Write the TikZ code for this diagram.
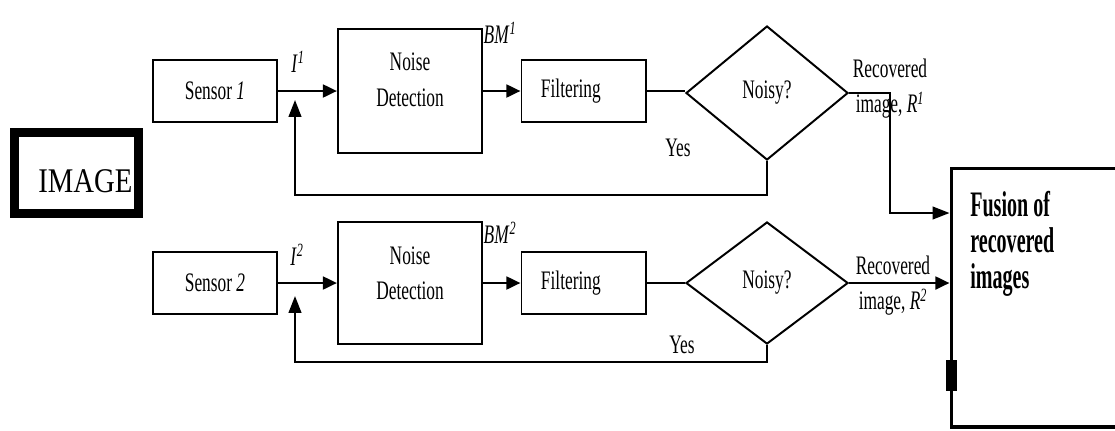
\documentclass[tikz,border=0pt]{standalone}
\usepackage{fontspec}
\usepackage{tikz}
\usetikzlibrary{arrows.meta, shapes.geometric, positioning}
\newfontfamily\boxfont{Liberation Serif}[FakeStretch=0.65]
\newfontfamily\fusefont{Liberation Serif}[FakeStretch=0.56]
\newfontfamily\bigfont{Liberation Serif}[FakeStretch=0.83]

\begin{document}
\begin{tikzpicture}[
        x=0.025cm, y=-0.025cm,
        font=\boxfont\fontsize{19}{25}\selectfont,
        block/.style={draw, line width=1.4pt, inner sep=0pt, align=center, minimum width=3.1cm, minimum height=1.53cm},
        detector/.style={draw, line width=1.4pt, inner sep=0pt, minimum width=3.6cm},
        decision/.style={draw, diamond, line width=1.4pt, inner sep=0pt, minimum width=4.05cm},
        flow/.style={-{Triangle[length=10pt, width=9pt]}, line width=2pt},
        loop/.style={-{Triangle[length=12pt, width=9pt]}, line width=1.4pt},
        note/.style={inner sep=0pt, align=center}
    ]

    \useasboundingbox (0,0) rectangle (1115,430);
    \clip (0,0) rectangle (1115,430);

    % input image
    \draw[line width=6.4pt] (14.5,132.5) rectangle (138,213);
    \node[anchor=base west, inner sep=0pt, font=\bigfont\fontsize{24.6}{26}\selectfont] (image) at (38,192) {IMAGE};

    % first sensor chain
    \node[block] (sensor1) at (215,91) {Sensor \textit{1}};
    \node[detector, minimum height=3.1cm] (detect1) at (410,91) {};
    \node[note] at ([yshift=8pt]detect1.center) {Noise\\Detection};
    \node[block] (filter1) at (583.5,91) {Filtering\hspace{18pt}};
    \node[decision, minimum height=3.35cm] (noisy1) at (767,93) {Noisy?};

    % second sensor chain
    \node[block] (sensor2) at (215,283) {Sensor \textit{2}};
    \node[detector, minimum height=3.05cm] (detect2) at (410,283) {};
    \node[note] at ([yshift=7pt]detect2.center) {Noise\\Detection};
    \node[block] (filter2) at (583.5,283) {Filtering\hspace{18pt}};
    \node[decision, minimum height=3.05cm] (noisy2) at (767,283) {Noisy?};

    % fusion
    \node[draw, line width=2.8pt, minimum width=4.5cm, minimum height=6.45cm] (fusion) at (1041.5,297.5) {};
    \node[anchor=north west, align=left, inner sep=0pt, font=\fusefont\bfseries\fontsize{25.5}{25.5}\selectfont] (fusetext) at (970,191) {Fusion of\\recovered\\images};
    \fill (946,360) rectangle (957,391);

    \node[note] (in1) at (298,62) {\textit{I}\textsuperscript{\textit{1}}};
    \node[note] (bm1) at (500,33) {\textit{BM}\textsuperscript{\textit{1}}};
    \node[note] (yes1) at (678,148) {Yes};
    \node[note] (rec1) at (890,89) {Recovered\\image, \textit{R}\textsuperscript{\textit{1}}};

    \node[note] (in2) at (297,255) {\textit{I}\textsuperscript{\textit{2}}};
    \node[note] (bm2) at (500,233) {\textit{BM}\textsuperscript{\textit{2}}};
    \node[note] (yes2) at (682,345) {Yes};
    \node[note] (rec2) at (893,286) {Recovered\\image, \textit{R}\textsuperscript{\textit{2}}};

    \coordinate (back1) at (295,195);
    \coordinate (tip1) at (295,100);
    \coordinate (turn1) at (890,213);
    \coordinate (back2) at (295,362);
    \coordinate (tip2) at (295,296);

    \draw[flow] (sensor1) -- (detect1);
    \draw[flow] (detect1) -- (filter1);
    \draw[line width=1.4pt] (filter1) -- (filter1 -| noisy1.west);
    \draw[loop] (noisy1.south) |- (back1) -- (tip1);
    \draw[loop] (noisy1.east) -| (turn1) -- (turn1 -| fusion.west);

    \draw[flow] (sensor2) -- (detect2);
    \draw[flow] (detect2) -- (filter2);
    \draw[line width=1.4pt] (filter2) -- (noisy2.west);
    \draw[loop] (noisy2.south) |- (back2) -- (tip2);
    \draw[flow] (noisy2.east) -- (noisy2.east -| fusion.west);

\end{tikzpicture}
\end{document}
